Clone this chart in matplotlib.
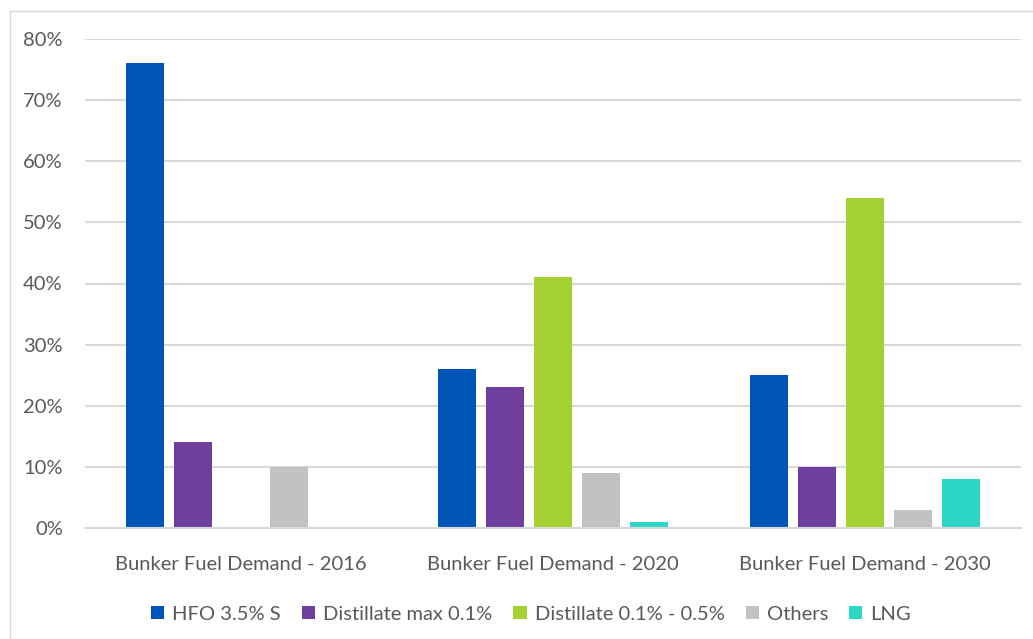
import matplotlib
matplotlib.use("Agg")
import matplotlib.pyplot as plt
from matplotlib.lines import Line2D
import numpy as np

categories = ["Bunker Fuel Demand - 2016", "Bunker Fuel Demand - 2020", "Bunker Fuel Demand - 2030"]
series_names = ["HFO 3.5% S", "Distillate max 0.1%", "Distillate 0.1% - 0.5%", "Others", "LNG"]
hfo = [76, 26, 25]
dist_max = [14, 23, 10]
dist_range = [0, 41, 54]
others = [10, 9, 3]
lng = [0, 1, 8]
yticks = [0, 10, 20, 30, 40, 50, 60, 70, 80]

colors = ["#0055B8", "#6F3FA0", "#A5D233", "#C1C2C1", "#2DD5C4"]
text_color = "#595959"

plt.rcParams['font.family'] = ['Lato', 'DejaVu Sans']

fig = plt.figure(figsize=(10.33, 6.39), dpi=100)
ax = fig.add_axes([85/1033, 1-528/639, (1021-85)/1033, (528-39)/639])

data = [hfo, dist_max, dist_range, others, lng]
x = np.arange(len(categories))
width = 38/312
pitch = 48/312
for i, (vals, c, name) in enumerate(zip(data, colors, series_names)):
    ax.bar(x + (i-2)*pitch, vals, width, color=c, label=name, zorder=3)

ax.set_xlim(-0.5, 2.5)
ax.set_ylim(0, 80)
ax.set_yticks(yticks)
ax.set_yticklabels([f"{v}%" for v in yticks])
ax.set_xticks(x)
ax.set_xticklabels(categories)
ax.tick_params(axis='both', length=0, labelsize=14.5, labelcolor=text_color)
ax.tick_params(axis='y', pad=16)
ax.tick_params(axis='x', pad=20)
ax.grid(axis='y', color="#D9D9D9", linewidth=1.5, zorder=0)
for s in ["top", "right", "left"]:
    ax.spines[s].set_visible(False)
ax.spines["bottom"].set_color("#D9D9D9")
ax.spines["bottom"].set_linewidth(1.5)
ax.spines["bottom"].set_zorder(4)

handles, labels = ax.get_legend_handles_labels()
leg = fig.legend(handles, labels, loc="center", bbox_to_anchor=(531/1033, 1-614/639), ncol=5,
                 frameon=False, fontsize=14.5, handlelength=0.65, handleheight=0.65,
                 handletextpad=0.4, columnspacing=1.05, labelcolor=text_color)

# outer border (top and left visible)
fig.add_artist(Line2D([10/1033, 10/1033], [0, 1-11/639], transform=fig.transFigure, color="#D9D9D9", lw=1))
fig.add_artist(Line2D([10/1033, 1], [1-11/639, 1-11/639], transform=fig.transFigure, color="#D9D9D9", lw=1))

fig.savefig("out.png", dpi=100)
